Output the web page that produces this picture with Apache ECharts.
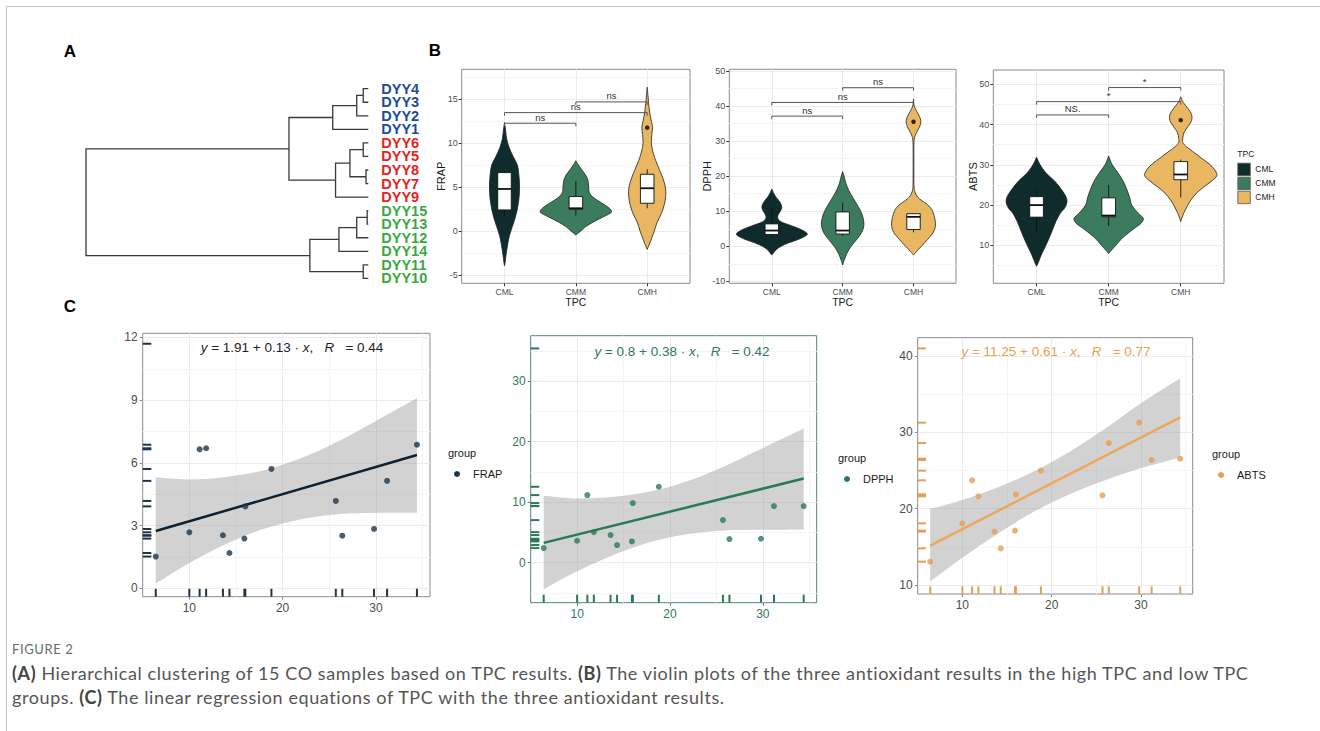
<!DOCTYPE html>
<html>
<head>
<meta charset="utf-8">
<title>Figure 2</title>
<script src="https://cdn.jsdelivr.net/npm/echarts@6.0.0/dist/echarts.min.js"></script>
<style>
html, body { margin: 0; padding: 0; background: #fff; }
#page { position: relative; width: 1320px; height: 731px; overflow: hidden; }
#main { position: absolute; left: 0; top: 0; width: 1320px; height: 631px; }
#edge { position: absolute; left: 6px; top: 6px; right: -10px; bottom: -10px; border-left: 1.5px solid #c4c4c4; border-top: 1.5px solid #c4c4c4; }
#figno { position: absolute; left: 12px; top: 641px; font: 13px Lato, sans-serif; color: #6b6b6b; letter-spacing: 0.6px; }
#caption { position: absolute; left: 12px; top: 661px; font: 18px/24px Lato, sans-serif; color: #555; letter-spacing: 0.6px; white-space: nowrap; }
#caption b { color: #444; }
</style>
</head>
<body>
<div id="page">
  <div id="edge"></div>
  <div id="main"></div>
  <div id="figno">FIGURE 2</div>
  <div id="caption"><b>(A)</b> Hierarchical clustering of 15 CO samples based on TPC results. <b>(B)</b> The violin plots of the three antioxidant results in the high TPC and low TPC<br>groups. <b>(C)</b> The linear regression equations of TPC with the three antioxidant results.</div>
</div>
<script>
var FONT = '"Liberation Sans", Arial, sans-serif';

var groups = ['CML', 'CMM', 'CMH'];
var groupColors = ['#0f2b2b', '#3b7c5f', '#e9b662'];

// A - dendrogram (leaf order top to bottom, merges in hclust order)
var leaves = ['DYY4', 'DYY3', 'DYY2', 'DYY1', 'DYY6', 'DYY5', 'DYY8', 'DYY7', 'DYY9', 'DYY15', 'DYY13', 'DYY12', 'DYY14', 'DYY11', 'DYY10'];
var leafColors = ['#1e4b97', '#1e4b97', '#1e4b97', '#1e4b97', '#e52421', '#e52421', '#e52421', '#e52421', '#e52421', '#3aa93f', '#3aa93f', '#3aa93f', '#3aa93f', '#3aa93f', '#3aa93f'];
var mergeA = ['DYY4', 0, 1, 'DYY6', 'DYY8', 3, 5, 2, 'DYY15', 8, 9, 'DYY11', 10, 7];
var mergeB = ['DYY3', 'DYY2', 'DYY1', 'DYY5', 'DYY7', 4, 'DYY9', 6, 'DYY13', 'DYY12', 'DYY14', 'DYY10', 11, 12];
var mergeH = [0.18, 0.41, 1.26, 0.18, 0.08, 0.65, 1.16, 2.81, 0.04, 0.41, 1.04, 0.18, 2.07, 10.0];

// B - violin outlines: [value, half width]
var frapCML = [[12.33, 0], [11.5, 0.015], [10.5, 0.03], [9.5, 0.065], [8.5, 0.12], [7.5, 0.18], [6.5, 0.2], [5.5, 0.21], [4.5, 0.21], [3.5, 0.2], [2.5, 0.18], [1.5, 0.15], [0.5, 0.11], [-0.5, 0.07], [-1.5, 0.045], [-2.5, 0.025], [-3.5, 0.01], [-3.98, 0]];
var frapCMM = [[8.0, 0], [7.5, 0.035], [7.0, 0.08], [6.5, 0.125], [6.0, 0.16], [5.5, 0.175], [5.0, 0.18], [4.5, 0.185], [4.0, 0.22], [3.5, 0.3], [3.0, 0.4], [2.5, 0.48], [2.2, 0.5], [2.0, 0.48], [1.5, 0.36], [1.0, 0.24], [0.5, 0.14], [0.0, 0.07], [-0.46, 0]];
var frapCMH = [[16.36, 0], [15.5, 0.01], [14.5, 0.02], [13.5, 0.035], [12.5, 0.058], [11.8, 0.075], [11.0, 0.065], [10.0, 0.058], [9.0, 0.08], [8.0, 0.12], [7.0, 0.17], [6.0, 0.22], [5.0, 0.255], [4.0, 0.26], [3.0, 0.24], [2.0, 0.2], [1.0, 0.14], [0.0, 0.1], [-1.0, 0.055], [-2.1, 0]];
var dpphCML = [[16.3, 0], [15, 0.03], [14, 0.06], [13, 0.1], [12, 0.13], [11, 0.14], [10, 0.12], [9, 0.09], [8, 0.085], [7, 0.13], [6, 0.26], [5, 0.39], [4, 0.48], [3.5, 0.5], [3, 0.48], [2, 0.38], [1, 0.24], [0, 0.13], [-1, 0.06], [-2, 0.02], [-2.5, 0]];
var dpphCMM = [[21.3, 0], [20, 0.02], [18, 0.045], [16, 0.085], [14, 0.14], [12, 0.2], [10, 0.255], [8, 0.29], [6, 0.3], [4, 0.27], [2, 0.2], [0, 0.12], [-2, 0.06], [-4, 0.02], [-5.3, 0]];
var dpphCMH = [[41.9, 0], [40, 0.01], [38.5, 0.045], [37, 0.085], [35.5, 0.105], [34, 0.085], [32.5, 0.045], [31, 0.015], [29, 0.006], [25, 0.005], [20, 0.005], [17, 0.008], [15.5, 0.02], [14, 0.06], [13, 0.12], [12, 0.19], [11, 0.24], [10, 0.27], [8, 0.3], [6, 0.31], [4, 0.28], [2, 0.2], [0, 0.11], [-1.5, 0.04], [-2.5, 0]];
var abtsCML = [[31.9, 0], [30, 0.05], [28, 0.13], [26, 0.25], [24, 0.34], [22, 0.41], [20.5, 0.42], [19, 0.38], [18, 0.33], [16, 0.27], [14, 0.225], [12, 0.18], [10, 0.13], [8, 0.075], [6, 0.03], [4.8, 0]];
var abtsCMM = [[32.2, 0], [30, 0.05], [28, 0.13], [26, 0.2], [24, 0.25], [22, 0.29], [20, 0.32], [18, 0.41], [16.7, 0.48], [15.5, 0.45], [14, 0.34], [12, 0.2], [10, 0.1], [8, 0]];
var abtsCMH = [[46.9, 0], [45.5, 0.035], [44, 0.1], [42.5, 0.15], [41, 0.15], [39.5, 0.1], [38, 0.045], [36.5, 0.027], [35.5, 0.03], [34.5, 0.08], [33, 0.19], [31.5, 0.3], [30, 0.41], [28.5, 0.48], [27.3, 0.5], [26, 0.43], [24.5, 0.32], [23, 0.22], [21, 0.13], [19, 0.07], [17.5, 0.03], [15.9, 0]];

// box stats: [min, q1, median, q3, max]
var frapBox = [[1.63, 2.39, 4.78, 6.64, 6.87], [1.75, 2.47, 2.58, 3.91, 5.69], [2.58, 3.15, 4.86, 6.45, 7.02]];
var dpphBox = [[2.75, 3.4, 4.5, 6.4, 11.1], [2.9, 3.5, 4.5, 9.8, 12.5], [4.0, 4.8, 8.4, 9.3, 9.4]];
var abtsBox = [[13.1, 17.0, 20.0, 22.1, 23.6], [14.8, 17.1, 17.4, 21.8, 25.0], [21.9, 26.3, 27.6, 30.8, 31.3]];
var frapOut = [[3, 11.76]];
var dpphOut = [[3, 35.5]];
var abtsOut = [[3, 41.1]];

// significance brackets: [from group, to group, height]
var frapSig = [[1, 2, 12.26], [1, 3, 13.47], [2, 3, 14.69]];
var frapSigText = ['ns', 'ns', 'ns'];
var dpphSig = [[1, 2, 37.1], [1, 3, 41.0], [2, 3, 45.2]];
var dpphSigText = ['ns', 'ns', 'ns'];
var abtsSig = [[1, 2, 42.4], [1, 3, 45.7], [2, 3, 49.2]];
var abtsSigText = ['NS.', '*', '*'];

var frapTicks = [-5, 0, 5, 10, 15];
var frapMinor = [-2.5, 2.5, 7.5, 12.5, 17.5];
var dpphTicks = [-10, 0, 10, 20, 30, 40, 50];
var dpphMinor = [-5, 5, 15, 25, 35, 45];
var abtsTicks = [10, 20, 30, 40, 50];
var abtsMinor = [5, 15, 25, 35, 45];

// C - regressions (sample 15 has no TPC value)
var tpc = [6.4, 10.0, 11.1, 11.8, 13.6, 14.3, 15.9, 16.0, 18.8, 25.7, 26.4, 29.8, 31.2, 34.4, null];
var frap = [1.52, 2.68, 6.65, 6.70, 2.54, 1.69, 2.38, 3.92, 5.71, 4.18, 2.52, 2.84, 5.14, 6.87, 11.7];
var dpph = [2.42, 3.63, 11.17, 5.06, 4.57, 2.92, 3.52, 9.85, 12.55, 7.04, 3.91, 3.96, 9.36, 9.36, 35.4];
var abts = [13.06, 18.08, 23.71, 21.62, 16.99, 14.80, 17.12, 21.88, 24.98, 21.75, 28.60, 31.27, 26.38, 26.55, 41.0];

var fitX = [6.4, 34.4];
var frapFit = [2.74, 6.38];
var dpphFit = [3.28, 13.9];
var abtsFit = [15.15, 31.95];

// confidence band edges
var bandX = [6.4, 10, 14, 18, 22, 26, 30, 34.4];
var frapLo = [0.22, 1.21, 2.13, 2.85, 3.31, 3.54, 3.61, 3.62];
var frapHi = [5.31, 5.21, 5.33, 5.65, 6.23, 7.04, 8.01, 9.09];
var dpphLo = [-4.4, -1.4, 1.33, 3.47, 4.76, 5.32, 5.44, 5.5];
var dpphHi = [11.06, 10.6, 10.91, 11.81, 13.56, 16.04, 18.96, 22.18];
var abtsLo = [10.44, 13.56, 16.76, 19.59, 21.89, 23.72, 25.28, 26.7];
var abtsHi = [19.96, 21.14, 22.82, 24.87, 27.45, 30.5, 33.82, 37.1];

var tpcTicks = [10, 20, 30];
var tpcMinor = [15, 25, 35];
var frapScTicks = [0, 3, 6, 9, 12];
var frapScMinor = [1.5, 4.5, 7.5, 10.5];
var dpphScTicks = [0, 10, 20, 30];
var dpphScMinor = [-5, 5, 15, 25, 35];
var abtsScTicks = [10, 20, 30, 40];
var abtsScMinor = [15, 25, 35];

var myChart = echarts.init(document.getElementById('main'), null, {renderer: 'svg'});
var option = {
	animation: false,
	textStyle: {fontFamily: FONT},
	grid: [], xAxis: [], yAxis: [], series: [], graphic: []
};

function addGrid(rect, border) {
	option.grid.push({
		left: rect[0], top: rect[1], width: rect[2], height: rect[3],
		show: border ? true : false, borderColor: border || 'transparent', borderWidth: 1, backgroundColor: 'transparent'
	});
	return option.grid.length - 1;
}

// main axis carries labels, ticks and major grid lines; a hidden twin draws the minor lines
function addValueAxis(list, gi, dim, min, max, ticks, minor, st) {
	var idx = list.length;
	list.push({
		type: 'value', gridIndex: gi, min: min, max: max,
		position: dim == 'x' ? 'bottom' : 'left',
		name: st.name || '', nameLocation: 'middle', nameGap: st.nameGap || 0, nameMoveOverlap: false,
		nameTextStyle: {fontSize: st.nameSize || 11, color: '#1a1a1a'},
		axisLine: {show: false, onZero: false},
		axisTick: {show: true, customValues: ticks, length: 3, lineStyle: {color: st.tickColor, width: 1}},
		axisLabel: {customValues: ticks, color: st.color, fontSize: st.size, margin: st.margin, formatter: st.formatter},
		splitLine: {show: true, lineStyle: {color: '#ebebeb', width: 1}}
	});
	if (minor && minor.length) {
		list.push({
			type: 'value', gridIndex: gi, min: min, max: max,
			position: dim == 'x' ? 'top' : 'right',
			axisLine: {show: false, onZero: false},
			axisTick: {show: false, customValues: minor},
			axisLabel: {show: false},
			splitLine: {show: true, lineStyle: {color: '#f4f4f4', width: 1}}
		});
	}
	return idx;
}

// smooth curve through screen points (Catmull-Rom as cubic bezier)
function curvePath(p, move) {
	var d = (move ? 'M' : 'L') + p[0][0] + ' ' + p[0][1];
	for (var i = 0; i < p.length - 1; i++) {
		var p0 = p[i - 1] || p[i], p1 = p[i], p2 = p[i + 1], p3 = p[i + 2] || p2;
		d += ' C' + (p1[0] + (p2[0] - p0[0]) / 6) + ' ' + (p1[1] + (p2[1] - p0[1]) / 6) + ' '
			+ (p2[0] - (p3[0] - p1[0]) / 6) + ' ' + (p2[1] - (p3[1] - p1[1]) / 6) + ' ' + p2[0] + ' ' + p2[1];
	}
	return d;
}

//树状图
function dendrogram() {
	var gi = addGrid([86, 81.9, 282.3, 203.3], null);
	var xi = option.xAxis.length;
	option.xAxis.push({type: 'value', gridIndex: gi, min: 0, max: 10, inverse: true, show: false});
	var yi = option.yAxis.length;
	option.yAxis.push({type: 'value', gridIndex: gi, min: -0.5, max: 14.5, inverse: true, show: false});
	option.yAxis.push({
		type: 'category', gridIndex: gi, data: leaves, inverse: true, position: 'right',
		axisLine: {show: false}, axisTick: {show: false}, splitLine: {show: false},
		axisLabel: {
			interval: 0, margin: 13, fontSize: 14.5, fontWeight: 'bold',
			color: function (v, i) { return leafColors[i]; }
		}
	});
	var nodeY = [];
	function pos(ref) {
		if (typeof ref === 'string') return [0, leaves.indexOf(ref)];
		return [mergeH[ref], nodeY[ref]];
	}
	for (var i = 0; i < mergeH.length; i++) {
		nodeY.push((pos(mergeA[i])[1] + pos(mergeB[i])[1]) / 2);
	}
	option.series.push({
		type: 'custom', xAxisIndex: xi, yAxisIndex: yi,
		data: mergeH.map(function (h, i) { return [h, nodeY[i]]; }),
		renderItem: function (params, api) {
			var k = params.dataIndex;
			var a = pos(mergeA[k]), b = pos(mergeB[k]), h = mergeH[k];
			return {
				type: 'polyline',
				shape: {points: [api.coord(a), api.coord([h, a[1]]), api.coord([h, b[1]]), api.coord(b)]},
				style: {stroke: '#3a3a3a', lineWidth: 1.3, fill: 'none'}
			};
		}
	});
}

//小提琴图
function violinPanel(rect, yMin, yMax, ticks, minor, name, nameGap, profiles, box, out, sig, sigText) {
	var gi = addGrid(rect, '#8a8a8a');
	var xi = addValueAxis(option.xAxis, gi, 'x', 0.4, 3.6, [1, 2, 3], null, {
		color: '#4d4d4d', size: 8.5, margin: 4, tickColor: '#333', name: 'TPC', nameGap: 13, nameSize: 10.5,
		formatter: function (v) { return groups[Math.round(v) - 1]; }
	});
	var yi = addValueAxis(option.yAxis, gi, 'y', yMin, yMax, ticks, minor, {
		color: '#4d4d4d', size: 9, margin: 4, tickColor: '#333', name: name, nameGap: nameGap, nameSize: 11
	});
	option.series.push({
		type: 'custom', xAxisIndex: xi, yAxisIndex: yi, z: 2,
		data: [[1, 0], [2, 0], [3, 0]],
		renderItem: function (params, api) {
			var g = params.dataIndex, prof = profiles[g], c = g + 1;
			var right = [], left = [];
			for (var i = 0; i < prof.length; i++) {
				right.push(api.coord([c + prof[i][1], prof[i][0]]));
				left.unshift(api.coord([c - prof[i][1], prof[i][0]]));
			}
			return {
				type: 'path', shape: {pathData: curvePath(right, true) + ' ' + curvePath(left, false) + ' Z'},
				style: {fill: groupColors[g], stroke: '#222', lineWidth: 0.8}
			};
		}
	});
	option.series.push({
		type: 'custom', xAxisIndex: xi, yAxisIndex: yi, z: 3,
		data: [[1, 0], [2, 0], [3, 0]],
		renderItem: function (params, api) {
			var g = params.dataIndex, b = box[g], c = g + 1, hw = 0.095;
			var lo = api.coord([c, b[0]]), q1 = api.coord([c, b[1]]), md = api.coord([c, b[2]]);
			var q3 = api.coord([c, b[3]]), hi = api.coord([c, b[4]]);
			var l = api.coord([c - hw, b[3]])[0], r = api.coord([c + hw, b[3]])[0];
			return {
				type: 'group', children: [
					{type: 'line', shape: {x1: lo[0], y1: lo[1], x2: q1[0], y2: q1[1]}, style: {stroke: '#111', lineWidth: 0.9}},
					{type: 'line', shape: {x1: q3[0], y1: q3[1], x2: hi[0], y2: hi[1]}, style: {stroke: '#111', lineWidth: 0.9}},
					{type: 'rect', shape: {x: l, y: q3[1], width: r - l, height: q1[1] - q3[1]}, style: {fill: '#fff', stroke: '#111', lineWidth: 0.9}},
					{type: 'line', shape: {x1: l, y1: md[1], x2: r, y2: md[1]}, style: {stroke: '#111', lineWidth: 1.8}}
				]
			};
		}
	});
	option.series.push({
		type: 'scatter', xAxisIndex: xi, yAxisIndex: yi, z: 4,
		data: out, symbolSize: 4.5, itemStyle: {color: '#000'}
	});
	option.series.push({
		type: 'custom', xAxisIndex: xi, yAxisIndex: yi, z: 3,
		data: sig.map(function (s) { return [s[0], s[2]]; }),
		renderItem: function (params, api) {
			var s = sig[params.dataIndex];
			var a = api.coord([s[0], s[2]]), b = api.coord([s[1], s[2]]);
			return {
				type: 'group', children: [
					{type: 'polyline', shape: {points: [[a[0], a[1] + 3], [a[0], a[1]], [b[0], b[1]], [b[0], b[1] + 3]]},
						style: {stroke: '#555', lineWidth: 1, fill: 'none'}},
					{type: 'text', x: (a[0] + b[0]) / 2, y: a[1] - 1,
						style: {text: sigText[params.dataIndex], fill: '#333', fontSize: 9.5, fontFamily: FONT, align: 'center', verticalAlign: 'bottom'}}
				]
			};
		}
	});
}

//回归散点图
function scatterPanel(rect, frame, labelColor, yMin, yMax, yTicks, yMinor, ys, fitY, lo, hi, color, lineColor) {
	var gi = addGrid(rect, frame);
	var xi = addValueAxis(option.xAxis, gi, 'x', 5.0, 35.8, tpcTicks, tpcMinor, {color: labelColor, size: 12, margin: 5, tickColor: frame});
	var yi = addValueAxis(option.yAxis, gi, 'y', yMin, yMax, yTicks, yMinor, {color: labelColor, size: 12, margin: 5, tickColor: frame});
	var pts = [], xr = [], yr = [];
	for (var i = 0; i < ys.length; i++) {
		if (tpc[i] != null) { pts.push([tpc[i], ys[i]]); xr.push([tpc[i], ys[i]]); }
		yr.push([0, ys[i]]);
	}
	option.series.push({
		type: 'custom', xAxisIndex: xi, yAxisIndex: yi, z: 1, silent: true,
		data: bandX.map(function (x, k) { return [x, hi[k]]; }),
		renderItem: function (params, api) {
			if (params.dataIndex > 0) return null;
			var up = [], dn = [];
			for (var k = 0; k < bandX.length; k++) {
				up.push(api.coord([bandX[k], hi[k]]));
				dn.unshift(api.coord([bandX[k], lo[k]]));
			}
			return {
				type: 'path', shape: {pathData: curvePath(up, true) + ' ' + curvePath(dn, false) + ' Z'},
				style: {fill: 'rgba(153,153,153,0.44)'}
			};
		}
	});
	option.series.push({
		type: 'line', xAxisIndex: xi, yAxisIndex: yi, z: 3,
		data: fitX.map(function (x, k) { return [x, fitY[k]]; }),
		symbol: 'none', lineStyle: {color: lineColor, width: 2.5}
	});
	option.series.push({
		type: 'scatter', xAxisIndex: xi, yAxisIndex: yi, z: 4,
		data: pts, symbolSize: 6, itemStyle: {color: color}
	});
	option.series.push({
		type: 'custom', xAxisIndex: xi, yAxisIndex: yi, z: 4, data: xr,
		renderItem: function (params, api) {
			var cs = params.coordSys;
			var px = api.coord([api.value(0), api.value(1)])[0];
			var b = cs.y + cs.height;
			return {type: 'line', shape: {x1: px, y1: b, x2: px, y2: b - cs.height * 0.03}, style: {stroke: color, lineWidth: 2}};
		}
	});
	option.series.push({
		type: 'custom', xAxisIndex: xi, yAxisIndex: yi, z: 4, data: yr,
		renderItem: function (params, api) {
			var cs = params.coordSys;
			var py = api.coord([10, api.value(1)])[1];
			return {type: 'line', shape: {x1: cs.x, y1: py, x2: cs.x + cs.width * 0.03, y2: py}, style: {stroke: color, lineWidth: 2}};
		}
	});
}

function txt(x, y, text, size, color, extra) {
	var st = {text: text, fontSize: size, fontFamily: FONT, fill: color, align: 'left', verticalAlign: 'middle'};
	for (var k in extra) st[k] = extra[k];
	option.graphic.push({type: 'text', x: x, y: y, style: st, z: 10});
}

function equation(x, y, a, b, r, color) {
	var it = {fontStyle: 'italic', fontSize: 13.5, fontFamily: FONT, fill: color};
	txt(x, y, '{i|y} = ' + a + ' + ' + b + ' \u00b7 {i|x},   {i|R}   = ' + r, 13.5, color, {align: 'center', rich: {i: it}});
}

function groupLegend(x, y, label, color) {
	txt(x, y, 'group', 11, '#1a1a1a');
	option.graphic.push({type: 'circle', shape: {cx: x + 9, cy: y + 21.5, r: 3}, style: {fill: color}, z: 10});
	txt(x + 25, y + 21.5, label, 11, '#1a1a1a');
}

dendrogram();
violinPanel([461.7, 69.3, 228.3, 214], -5.96, 18.4, frapTicks, frapMinor, 'FRAP', 15, [frapCML, frapCMM, frapCMH], frapBox, frapOut, frapSig, frapSigText);
violinPanel([729.3, 69.3, 226.7, 214], -10.53, 50.44, dpphTicks, dpphMinor, 'DPPH', 17, [dpphCML, dpphCMM, dpphCMH], dpphBox, dpphOut, dpphSig, dpphSigText);
violinPanel([993.3, 70, 230.7, 213.3], 0.57, 53.56, abtsTicks, abtsMinor, 'ABTS', 15, [abtsCML, abtsCMM, abtsCMH], abtsBox, abtsOut, abtsSig, abtsSigText);
scatterPanel([142.7, 333.3, 287.3, 263.4], '#8a8a8a', '#4d4d4d', -0.4, 12.2, frapScTicks, frapScMinor, frap, frapFit, frapLo, frapHi, '#1d3549', '#0d2231');
scatterPanel([530.7, 335.7, 286, 267], '#4a8a68', '#2f7a57', -6.6, 37.5, dpphScTicks, dpphScMinor, dpph, dpphFit, dpphLo, dpphHi, '#2a7a55', '#2a7a55');
scatterPanel([917.7, 337.7, 275, 256.3], '#8a8a8a', '#4d4d4d', 8.82, 42.4, abtsScTicks, abtsScMinor, abts, abtsFit, abtsLo, abtsHi, '#e69d55', '#eea75c');

// panel letters
txt(70, 51, 'A', 17, '#000', {align: 'center', fontWeight: 'bold'});
txt(435, 50, 'B', 17, '#000', {align: 'center', fontWeight: 'bold'});
txt(70, 306, 'C', 17, '#000', {align: 'center', fontWeight: 'bold'});

// regression equations
equation(292, 347, '1.91', '0.13', '0.44', '#222');
equation(682, 351, '0.8', '0.38', '0.42', '#2f7a57');
equation(1056, 351, '11.25', '0.61', '0.77', '#e9a250');

// legends
txt(1237.3, 154, 'TPC', 8.5, '#1a1a1a');
for (var g = 0; g < groups.length; g++) {
	option.graphic.push({type: 'rect', shape: {x: 1237.8, y: 163.2 + g * 14, width: 12.5, height: 12.5},
		style: {fill: groupColors[g], stroke: '#555', lineWidth: 0.8}, z: 10});
	txt(1255.3, 169.4 + g * 14, groups[g], 8.5, '#1a1a1a');
}
groupLegend(448, 452.5, 'FRAP', '#1d3549');
groupLegend(838, 457.5, 'DPPH', '#2a7a55');
groupLegend(1212, 453.5, 'ABTS', '#e69d55');

myChart.setOption(option);
</script>
</body>
</html>
